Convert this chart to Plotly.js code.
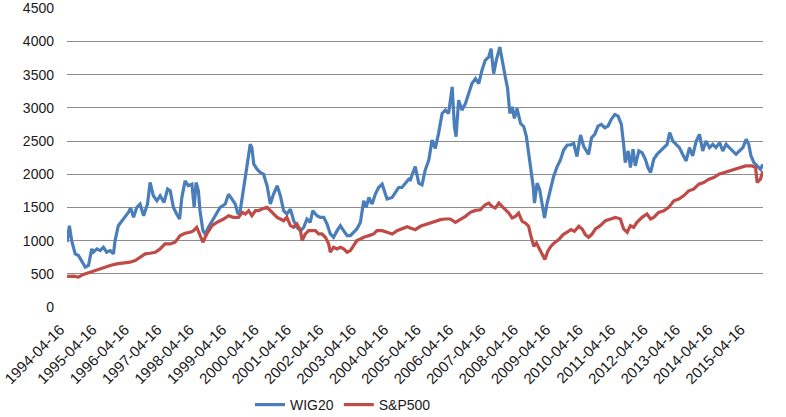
<!DOCTYPE html>
<html><head><meta charset="utf-8">
<script src="https://cdn.plot.ly/plotly-3.0.1.min.js"></script>
<style>html,body{margin:0;padding:0;background:#fff}</style>
</head><body>
<div id="chart" style="width:786px;height:417px"></div>
<script>
const tickLabels = ["1994-04-16","1995-04-16","1996-04-16","1997-04-16","1998-04-16","1999-04-16","2000-04-16","2001-04-16","2002-04-16","2003-04-16","2004-04-16","2005-04-16","2006-04-16","2007-04-16","2008-04-16","2009-04-16","2010-04-16","2011-04-16","2012-04-16","2013-04-16","2014-04-16","2015-04-16"];

const wigTime = [1994.29,1994.36,1994.43,1994.54,1994.64,1994.74,1994.85,1994.95,1995.05,1995.10,1995.21,1995.31,1995.41,1995.51,1995.62,1995.72,1995.77,1995.87,1995.98,1996.08,1996.18,1996.25,1996.34,1996.44,1996.54,1996.65,1996.77,1996.85,1996.95,1997.06,1997.16,1997.28,1997.39,1997.47,1997.57,1997.67,1997.76,1997.83,1997.93,1998.03,1998.14,1998.21,1998.27,1998.34,1998.39,1998.48,1998.55,1998.65,1998.76,1998.86,1999.01,1999.17,1999.27,1999.37,1999.48,1999.56,1999.63,1999.74,1999.84,1999.94,1999.99,2000.05,2000.15,2000.25,2000.35,2000.46,2000.56,2000.66,2000.77,2000.87,2000.97,2001.07,2001.18,2001.28,2001.38,2001.49,2001.59,2001.69,2001.79,2001.87,2002.00,2002.10,2002.21,2002.31,2002.41,2002.51,2002.62,2002.72,2002.82,2002.93,2003.03,2003.13,2003.23,2003.34,2003.44,2003.52,2003.60,2003.70,2003.80,2003.90,2004.01,2004.16,2004.32,2004.42,2004.52,2004.62,2004.73,2004.83,2004.88,2005.03,2005.14,2005.24,2005.34,2005.45,2005.55,2005.65,2005.75,2005.86,2005.96,2006.06,2006.17,2006.24,2006.29,2006.37,2006.47,2006.58,2006.68,2006.78,2006.89,2006.99,2007.09,2007.19,2007.30,2007.37,2007.45,2007.53,2007.64,2007.74,2007.81,2007.88,2007.95,2008.02,2008.09,2008.17,2008.28,2008.38,2008.46,2008.53,2008.60,2008.67,2008.71,2008.79,2008.87,2008.95,2009.02,2009.10,2009.20,2009.30,2009.41,2009.51,2009.61,2009.72,2009.82,2009.92,2010.02,2010.13,2010.23,2010.38,2010.47,2010.57,2010.67,2010.77,2010.88,2010.98,2011.08,2011.19,2011.29,2011.39,2011.46,2011.51,2011.60,2011.67,2011.75,2011.82,2011.93,2012.03,2012.13,2012.21,2012.29,2012.39,2012.49,2012.59,2012.70,2012.80,2012.88,2012.98,2013.08,2013.18,2013.28,2013.39,2013.49,2013.59,2013.70,2013.80,2013.90,2014.00,2014.11,2014.21,2014.31,2014.42,2014.52,2014.62,2014.72,2014.83,2014.93,2015.03,2015.14,2015.24,2015.32,2015.39,2015.48,2015.58,2015.68,2015.76];
const wigValues = [980,1225,1000,800,775,700,600,625,875,825,875,850,900,825,850,800,1000,1225,1300,1350,1425,1490,1350,1500,1550,1375,1550,1875,1675,1600,1675,1575,1775,1750,1500,1400,1325,1650,1900,1825,1850,1500,1875,1750,1450,1150,1100,1200,1300,1375,1500,1550,1700,1625,1550,1400,1450,1800,2150,2450,2400,2150,2075,2025,2000,1825,1550,1700,1825,1675,1450,1400,1475,1300,1200,1150,1200,1325,1275,1450,1375,1350,1350,1250,1100,1050,1150,1225,1150,1075,1075,1125,1175,1275,1600,1500,1650,1550,1700,1800,1850,1625,1650,1725,1800,1800,1875,1925,1915,2115,1865,1840,2065,2215,2515,2390,2615,2915,2965,2915,3315,2715,2565,3115,2965,3065,3215,3365,3440,3365,3565,3715,3765,3890,3515,3715,3915,3615,3465,3290,2915,3015,2840,2990,2765,2715,2565,2315,2065,1815,1565,1865,1765,1515,1340,1565,1765,1965,2115,2215,2365,2440,2440,2465,2265,2590,2415,2300,2550,2600,2725,2750,2700,2725,2825,2900,2875,2750,2450,2175,2350,2100,2375,2125,2350,2325,2225,2100,2025,2225,2300,2350,2400,2450,2625,2500,2450,2400,2300,2200,2400,2275,2500,2600,2350,2500,2400,2450,2400,2475,2350,2450,2400,2350,2300,2350,2400,2525,2450,2275,2175,2125,2075,2150];

const spTime = [1994.29,1994.49,1994.64,1994.79,1995.00,1995.21,1995.41,1995.62,1995.82,1996.03,1996.23,1996.39,1996.54,1996.70,1996.85,1997.01,1997.16,1997.31,1997.47,1997.62,1997.78,1997.93,1998.09,1998.19,1998.29,1998.37,1998.48,1998.60,1998.76,1998.91,1999.12,1999.27,1999.42,1999.58,1999.69,1999.79,1999.89,1999.99,2000.10,2000.20,2000.30,2000.46,2000.56,2000.66,2000.77,2000.87,2000.97,2001.07,2001.18,2001.28,2001.38,2001.49,2001.54,2001.64,2001.74,2001.85,2001.95,2002.05,2002.15,2002.26,2002.36,2002.41,2002.51,2002.62,2002.72,2002.82,2002.93,2003.03,2003.13,2003.23,2003.34,2003.44,2003.60,2003.75,2003.85,2004.01,2004.16,2004.32,2004.47,2004.62,2004.78,2004.88,2005.03,2005.19,2005.34,2005.50,2005.65,2005.81,2005.96,2006.11,2006.27,2006.42,2006.58,2006.73,2006.89,2007.04,2007.19,2007.30,2007.40,2007.50,2007.61,2007.71,2007.81,2007.92,2008.02,2008.12,2008.22,2008.33,2008.43,2008.53,2008.60,2008.69,2008.77,2008.87,2008.94,2009.03,2009.12,2009.22,2009.32,2009.46,2009.59,2009.72,2009.84,2009.94,2010.08,2010.18,2010.28,2010.38,2010.49,2010.59,2010.74,2010.90,2011.05,2011.21,2011.36,2011.46,2011.57,2011.67,2011.77,2011.87,2012.03,2012.18,2012.29,2012.39,2012.54,2012.70,2012.85,2013.01,2013.16,2013.31,2013.47,2013.62,2013.78,2013.93,2014.09,2014.24,2014.40,2014.55,2014.70,2014.86,2015.01,2015.22,2015.42,2015.53,2015.58,2015.68,2015.76];
const spValues = [460,465,450,490,525,560,600,625,650,660,675,700,750,800,810,825,875,950,950,975,1075,1110,1125,1150,1200,1100,975,1100,1225,1275,1325,1375,1350,1350,1425,1400,1450,1375,1450,1450,1475,1500,1450,1400,1350,1325,1300,1350,1225,1200,1250,1150,1000,1100,1150,1150,1150,1100,1100,1050,950,825,900,875,900,875,825,850,925,1000,1025,1050,1075,1100,1150,1150,1125,1100,1150,1175,1210,1190,1165,1215,1240,1275,1290,1315,1325,1325,1275,1315,1365,1425,1455,1465,1540,1565,1515,1490,1565,1515,1465,1415,1340,1365,1415,1290,1265,1215,1065,915,965,865,815,715,840,915,965,1015,1090,1125,1165,1140,1215,1175,1090,1050,1100,1175,1225,1300,1325,1350,1325,1175,1125,1225,1200,1275,1350,1400,1325,1350,1425,1450,1500,1600,1625,1675,1750,1775,1850,1875,1925,1950,2000,2025,2050,2075,2100,2125,2125,2100,1875,1925,2050];

function decYear(s){
  const p = s.split('-').map(Number);
  const a = Date.UTC(p[0],0,1), b = Date.UTC(p[0]+1,0,1);
  return p[0] + (Date.UTC(p[0],p[1]-1,p[2]) - a) / (b - a);
}
const tickVals = tickLabels.map(decYear);
const xStart = Math.min(wigTime[0], tickVals[0]) - 0.001;
const xEnd = wigTime[wigTime.length - 1];

const FONT = 'Liberation Sans, Arial, sans-serif';
const TXT = '#1a1a1a';
const traces = [
  {x: wigTime, y: wigValues, name: 'WIG20', type: 'scatter', mode: 'lines',
   line: {color: '#4A7EBB', width: 3.2}},
  {x: spTime, y: spValues, name: 'S&P500', type: 'scatter', mode: 'lines',
   line: {color: '#BE4B48', width: 3.2}}
];
const layout = {
  width: 786, height: 417,
  margin: {l: 67, r: 23, t: 8, b: 110},
  paper_bgcolor: '#fff', plot_bgcolor: '#fff',
  font: {family: FONT, size: 14, color: TXT},
  showlegend: true,
  legend: {orientation: 'h', xref: 'container', yref: 'container',
           x: 250/786, xanchor: 'left', y: 12/417, yanchor: 'middle',
           font: {family: FONT, size: 14, color: TXT}, itemwidth: 30, tracegroupgap: 0},
  xaxis: {range: [xStart, xEnd], tickmode: 'array', automargin: false,
          tickvals: tickVals, ticktext: tickLabels, tickangle: -45,
          showgrid: false, zeroline: false, showline: false, ticks: '',
          ticklabelstandoff: 10, ticklabelshift: -7,
          tickfont: {family: FONT, size: 15, color: TXT}},
  yaxis: {range: [0, 4503], tick0: 0, dtick: 500, showgrid: true, automargin: false,
          gridcolor: '#8c8c8c', gridwidth: 1, zeroline: false, showline: false,
          ticks: '', ticklabelstandoff: 12,
          tickfont: {family: FONT, size: 14, color: TXT}}
};
Plotly.newPlot('chart', traces, layout, {displayModeBar: false, staticPlot: true});
</script>
</body></html>
